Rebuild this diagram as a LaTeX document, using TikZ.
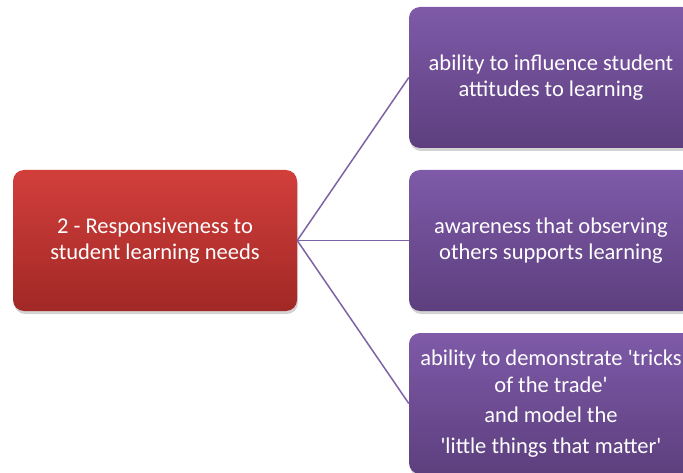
\documentclass[tikz,border=0pt]{standalone}
\usepackage{fontspec}
\setmainfont{Carlito}
\usetikzlibrary{shadows}
\definecolor{redtop}{HTML}{D23F3B}
\definecolor{redbot}{HTML}{A12826}
\definecolor{purtop}{HTML}{7E5AA8}
\definecolor{purbot}{HTML}{5D3F7E}
\definecolor{linkcol}{HTML}{7D63A6}
\tikzset{
  box/.style={rounded corners=11pt, minimum width=284pt, minimum height=141pt,
    text=white, align=center, inner sep=2pt,
    font=\fontsize{22.5}{26.5}\selectfont,
    drop shadow={opacity=0.35, shadow xshift=1pt, shadow yshift=-3pt}},
  redbox/.style={box, top color=redtop, bottom color=redbot},
  purbox/.style={box, top color=purtop, bottom color=purbot},
  link/.style={draw=linkcol, line width=1.5pt}
}
\begin{document}
\begin{tikzpicture}[x=1pt,y=1pt]
\useasboundingbox (0,0) rectangle (683,-473);
\clip (0,0) rectangle (683,-473);
\node[redbox] (c) at (155,-240.5) {2 - Responsiveness to\\student learning needs};
\node[purbox] (p1) at (551,-77.5) {ability to influence student\\attitudes to learning};
\node[purbox] (p2) at (551,-240.5) {awareness that observing\\others supports learning};
\node[purbox] (p3) at (551,-403.5) {ability to demonstrate \textquotesingle tricks\\of the trade\textquotesingle\\[4pt]and model the\\[4pt]\textquotesingle little things that matter\textquotesingle};
\draw[link] (c.east) -- (p1.west);
\draw[link] (c.east) -- (p2.west);
\draw[link] (c.east) -- (p3.west);
\end{tikzpicture}
\end{document}
